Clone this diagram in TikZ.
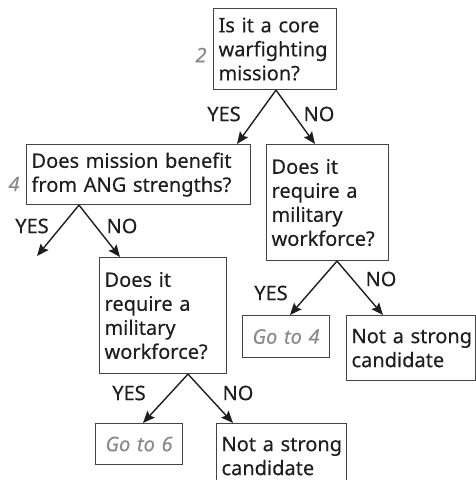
\documentclass[tikz,border=0pt]{standalone}
\usepackage{fontspec}
\setmainfont{Noto Sans}[FakeBold=0.25]
\usetikzlibrary{arrows.meta}
\definecolor{ink}{HTML}{1E1E1E}
\definecolor{edge}{HTML}{444444}
\definecolor{soft}{HTML}{8A8A8A}
\begin{document}
\begin{tikzpicture}[x=1pt,y=-1pt,
  txt/.style={font=\fontsize{20}{24}\selectfont, text=ink},
  box/.style={txt, draw=edge, line width=1.1pt, anchor=north west, inner xsep=5pt, inner ysep=0pt, align=left},
  gobox/.style={box, draw=edge, text=soft, font=\fontsize{20}{24}\selectfont\itshape, align=center, inner xsep=0pt},
  lbl/.style={txt, inner sep=0pt},
  num/.style={font=\fontsize{20}{24}\selectfont\itshape, text=soft, inner sep=0pt},
  arr/.style={-{Stealth[length=12pt,width=10pt,inset=2pt]}, line width=1.4pt, draw=ink}]
\useasboundingbox (0,0) rectangle (476,480);
% boxes
\node[box, text width=113pt, minimum height=81pt] (A) at (213,8) {\mbox{Is it a core}\\\mbox{warfighting}\\\mbox{mission?}};
\node[box, text width=214pt, minimum height=60pt] (B) at (26,144) {\mbox{Does mission benefit}\\\mbox{from ANG strengths?}};
\node[box, text width=112pt, minimum height=116pt] (C) at (266,144) {\mbox{Does it}\\\mbox{require a}\\\mbox{military}\\\mbox{workforce?}};
\node[box, text width=117pt, minimum height=116pt] (D) at (99,257) {\mbox{Does it}\\\mbox{require a}\\\mbox{military}\\\mbox{workforce?}};
\node[gobox, text width=87pt, minimum height=42pt] (E) at (242,315) {Go to 4};
\node[box, text width=119pt, minimum height=65pt] (F) at (346,315) {\mbox{Not a strong}\\\mbox{candidate}};
\node[gobox, text width=87pt, minimum height=41pt] (G) at (95,423) {Go to 6};
\node[box, text width=120pt, minimum height=65pt] (H) at (216,423) {\mbox{Not a strong}\\\mbox{candidate}};
% step numbers
\node[num] (n2) at (201,55) {2};
\node[num] (n4) at (14,184) {4};
% arrow ends
\coordinate (aA) at ([xshift=63pt]A.south west);
\coordinate (aB) at ([xshift=53pt]B.south west);
\coordinate (aC) at ([xshift=71pt]C.south west);
\coordinate (aD) at ([xshift=89pt]D.south west);
\coordinate (bY) at (37,256);
\draw[arr] (aA) -- ([xshift=211pt]B.north west);
\draw[arr] (aA) -- ([xshift=49pt]C.north west);
\draw[arr] (aB) -- (bY);
\draw[arr] (aB) -- ([xshift=21pt]D.north west);
\draw[arr] (aC) -- ([xshift=48pt]E.north west);
\draw[arr] (aC) -- ([xshift=37pt]F.north west);
\draw[arr] (aD) -- ([xshift=48pt]G.north west);
\draw[arr] (aD) -- ([xshift=17pt]H.north west);
% labels
\node[lbl] (yA) at (224,114) {YES};
\node[lbl] (nA) at (319,114) {NO};
\node[lbl] (yB) at (32,226) {YES};
\node[lbl] (nB) at (122,226) {NO};
\node[lbl] (yC) at (271,293) {YES};
\node[lbl] (nC) at (381,279) {NO};
\node[lbl] (yD) at (129,393) {YES};
\node[lbl] (nD) at (238,393) {NO};
\end{tikzpicture}
\end{document}
